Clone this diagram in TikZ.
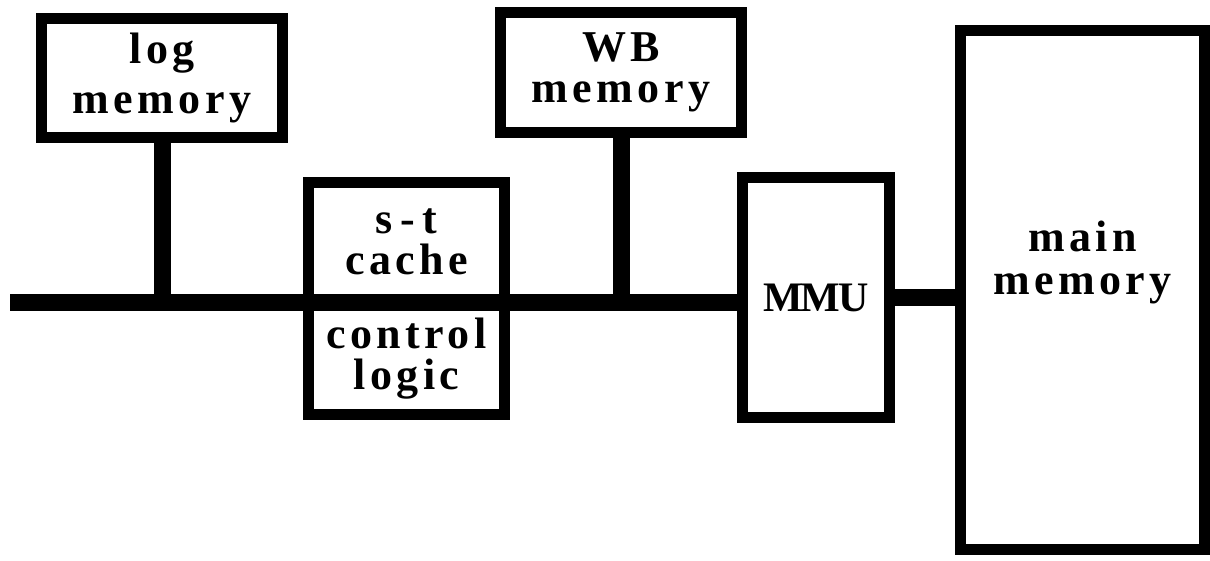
\documentclass[tikz,border=0pt]{standalone}
\usepackage{fontspec}
\setmainfont{Liberation Serif}
\newfontfamily\spacedfont[LetterSpace=10]{Liberation Serif}
\newfontfamily\tightfont[LetterSpace=-5]{Liberation Serif}
\usetikzlibrary{positioning}

\tikzset{
  unitbox/.style={draw, line width=11pt, rectangle, inner sep=0pt, align=center,
    font=\spacedfont\bfseries\fontsize{44}{41}\selectfont},
  busline/.style={line width=17pt},
}

\begin{document}
\begin{tikzpicture}[x=1pt, y=-1pt]
  \useasboundingbox (0,0) rectangle (1210,560);

  % Memories on the bus
  \node[unitbox, minimum width=241pt, minimum height=119pt,
        font=\spacedfont\bfseries\fontsize{44}{50}\selectfont] (logmem) at (162,78) {log\\memory};
  \node[unitbox, minimum width=241pt, minimum height=120pt] (wbmem) at (621,72.5) {WB\\memory};

  % Cache split by the bus
  \node[unitbox, minimum width=196pt, minimum height=119.5pt] (stcache) at (406.5,242.25) {s\,-\,t\\cache};
  \node[unitbox, minimum width=196pt, minimum height=112.5pt] (ctrl) at (406.5,358.25) {control\\logic};

  % MMU and main memory
  \node[unitbox, minimum width=147pt, minimum height=240pt,
        font=\tightfont\bfseries\fontsize{42}{46}\selectfont] (mmu) at (816,297.5) {MMU};
  \node[unitbox, minimum width=244pt, minimum height=519pt] (mainmem) at (1082.5,290) {};
  \node[font=\spacedfont\bfseries\fontsize{44}{43}\selectfont, align=center]
    (mainlbl) at ([yshift=28pt]mainmem.center) {main\\memory};

  % Bus
  \coordinate (busstart) at (10,302);
  \draw[busline] (busstart) -- (busstart -| mmu.west);
  \draw[busline] (logmem.south) -- (logmem.south |- busstart);
  \draw[busline] (wbmem.south) -- (wbmem.south |- busstart);
  \draw[busline] (mmu.east) -- (mmu.east -| mainmem.west);
\end{tikzpicture}
\end{document}
